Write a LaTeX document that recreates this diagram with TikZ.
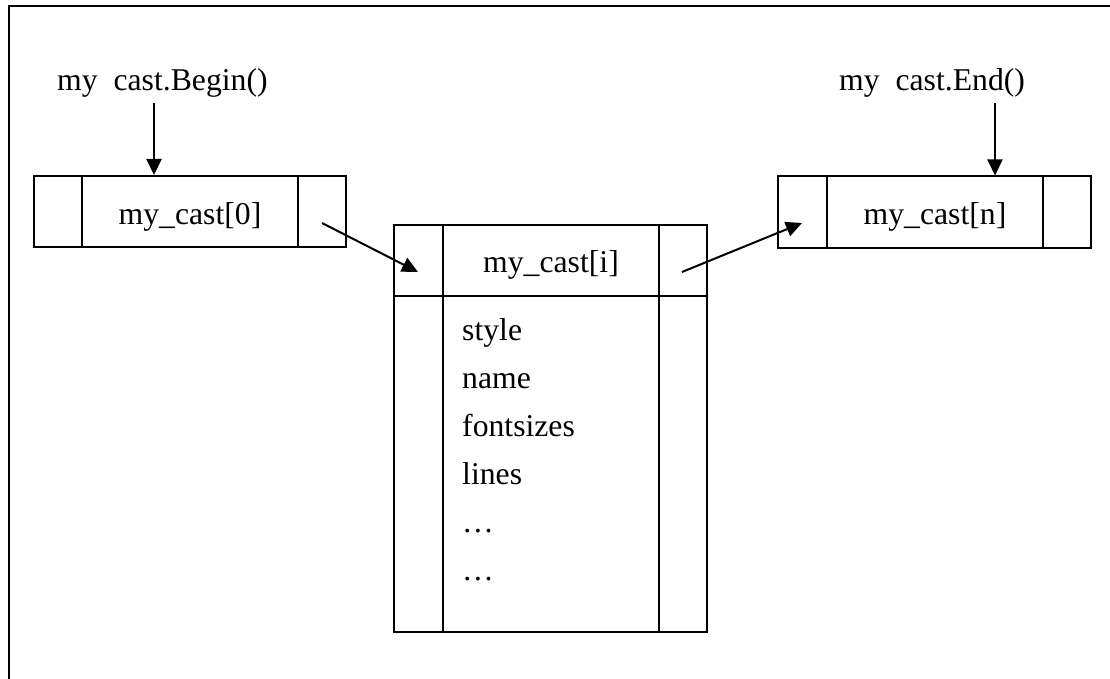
\documentclass[tikz,border=0pt]{standalone}
\usepackage{fontspec}
\setmainfont{Liberation Serif}
\usetikzlibrary{arrows.meta}
\tikzset{
  cell/.style={draw, line width=2pt, inner sep=0pt, minimum height=71pt},
  lbl/.style={inner sep=0pt, anchor=base, font=\fontsize{31.7}{38}\selectfont},
  fld/.style={inner sep=0pt, anchor=base west, font=\fontsize{31.7}{38}\selectfont},
  arr/.style={line width=2pt, -{Triangle[length=16pt,width=15pt]}},
}
\begin{document}
\begin{tikzpicture}[x=1pt,y=-1pt]
\useasboundingbox (0,0) rectangle (1110,679);
% frame: top and left edges
\draw[line width=2pt] (1110,6) -- (9,6) -- (9,679);

% first element
\node[cell, minimum width=48pt]  (b0l) at (58,211.5) {};
\node[cell, minimum width=216pt] (b0m) at (190,211.5) {};
\node[cell, minimum width=48pt]  (b0r) at (322,211.5) {};
\node[lbl] (t0) at (190,224) {my\_cast[0]};

% last element
\node[cell, minimum width=49pt]  (bnl) at (802.5,212) {};
\node[cell, minimum width=216pt] (bnm) at (935,212) {};
\node[cell, minimum width=48pt]  (bnr) at (1067,212) {};
\node[lbl] (tn) at (935,224) {my\_cast[n]};

% middle element with its fields
\node[cell, minimum width=49pt]  (bil) at (418.5,260) {};
\node[cell, minimum width=216pt] (bim) at (551,260) {};
\node[cell, minimum width=48pt]  (bir) at (683,260) {};
\node[lbl] (ti) at (551,272) {my\_cast[i]};
\node[cell, minimum width=49pt, minimum height=336pt]  (fl) at (418.5,464) {};
\node[cell, minimum width=216pt, minimum height=336pt] (fm) at (551,464) {};
\node[cell, minimum width=48pt, minimum height=336pt]  (fr) at (683,464) {};
\node[fld] (f1) at (462,340) {style};
\node[fld] (f2) at (462,388) {name};
\node[fld] (f3) at (462,436) {fontsizes};
\node[fld] (f4) at (462,484) {lines};
\node[fld] (f5) at (462,532) {…};
\node[fld] (f6) at (462,580) {…};

% iterator labels
\node[fld] (beg) at (57,91) {my\ \ cast.Begin()};
\node[fld] (end) at (839,91) {my\ \ cast.End()};

% connectors
\coordinate (bs) at (154,103);
\coordinate (es) at (995,103);
\coordinate (p0) at (322,223);
\coordinate (qi) at (418,272);
\coordinate (pi) at (682,272);
\coordinate (qn) at (802,223);
\draw[arr] (bs) -- (bs |- b0m.north);
\draw[arr] (es) -- (es |- bnm.north);
\draw[arr] (p0) -- (qi);
\draw[arr] (pi) -- (qn);
\end{tikzpicture}
\end{document}
